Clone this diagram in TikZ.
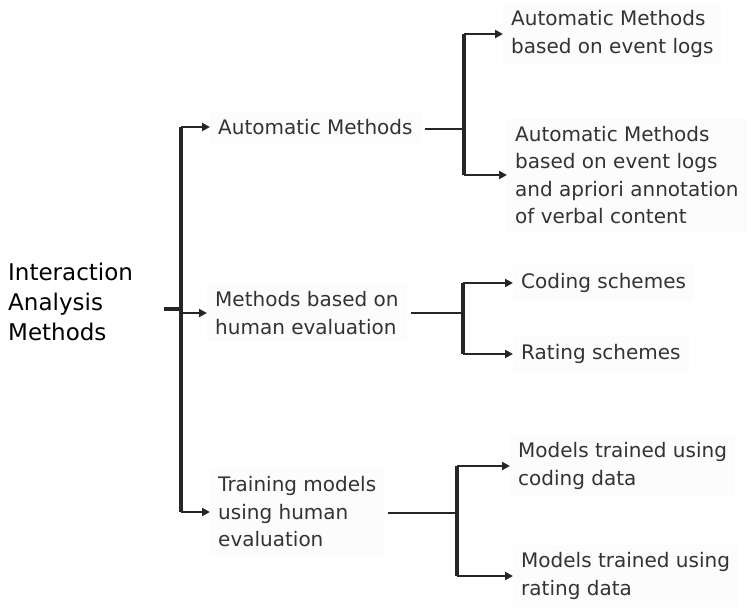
\documentclass[tikz,border=0pt]{standalone}
\usepackage{fontspec}
\setmainfont{DejaVu Sans}
\usetikzlibrary{arrows.meta}
\begin{document}
\begin{tikzpicture}[x=1pt,y=-1pt]
\fontsize{20}{27.5}\selectfont

\tikzstyle{method} = [anchor=west, align=left, fill=gray!2, inner sep=8pt, text=black!80]
\tikzstyle{rootlbl} = [anchor=west, align=left, inner sep=0pt, font=\fontsize{23}{30}\selectfont]
\tikzstyle{bar} = [line width=3.4pt, black!85]
\tikzstyle{feed} = [line width=2.2pt, black!85, shorten <=4pt]
\tikzstyle{arr} = [line width=2.4pt, black!85, -{Triangle[length=8pt,width=8pt]}]

\useasboundingbox (0,0) rectangle (751,607);

% first level
\node [rootlbl] (Root) at (8,302) {Interaction\\Analysis\\Methods};
\node [method] (Auto) at (210,127) {Automatic Methods};
\node [method] (Human) at (207,313) {Methods based on\\human evaluation};
\node [method] (Train) at (210,512) {Training models\\using human\\evaluation};

% second level
\node [method] (AutoLog) at (503,34) {Automatic Methods\\based on event logs};
\node [method] (AutoAnn) at (507,175) {Automatic Methods\\based on event logs\\and apriori annotation\\of verbal content};
\node [method] (Coding) at (513,283) {Coding schemes};
\node [method] (Rating) at (513,354) {Rating schemes};
\node [method] (TrainCod) at (510,466) {Models trained using\\coding data};
\node [method] (TrainRat) at (513,576) {Models trained using\\rating data};

% junctions
\coordinate (J0) at (181,309);
\coordinate (Stub) at (164,309);
\coordinate (J1) at (464,129);
\coordinate (J2) at (463,313);
\coordinate (J3) at (457,513);

\draw [bar] (Stub) -- (J0);
\draw [bar] (Auto.west -| J0) -- (Train.west -| J0);
\draw [arr] (Auto.west -| J0) -- (Auto.west);
\draw [arr] (Human.west -| J0) -- (Human.west);
\draw [arr] (Train.west -| J0) -- (Train.west);

\draw [feed] (Auto.east |- J1) -- (J1);
\draw [bar] (AutoLog.west -| J1) -- (AutoAnn.west -| J1);
\draw [arr] (AutoLog.west -| J1) -- (AutoLog.west);
\draw [arr] (AutoAnn.west -| J1) -- (AutoAnn.west);

\draw [feed] (Human.east |- J2) -- (J2);
\draw [bar] (Coding.west -| J2) -- (Rating.west -| J2);
\draw [arr] (Coding.west -| J2) -- (Coding.west);
\draw [arr] (Rating.west -| J2) -- (Rating.west);

\draw [feed] (Train.east |- J3) -- (J3);
\draw [bar] (TrainCod.west -| J3) -- (TrainRat.west -| J3);
\draw [arr] (TrainCod.west -| J3) -- (TrainCod.west);
\draw [arr] (TrainRat.west -| J3) -- (TrainRat.west);
\end{tikzpicture}
\end{document}
